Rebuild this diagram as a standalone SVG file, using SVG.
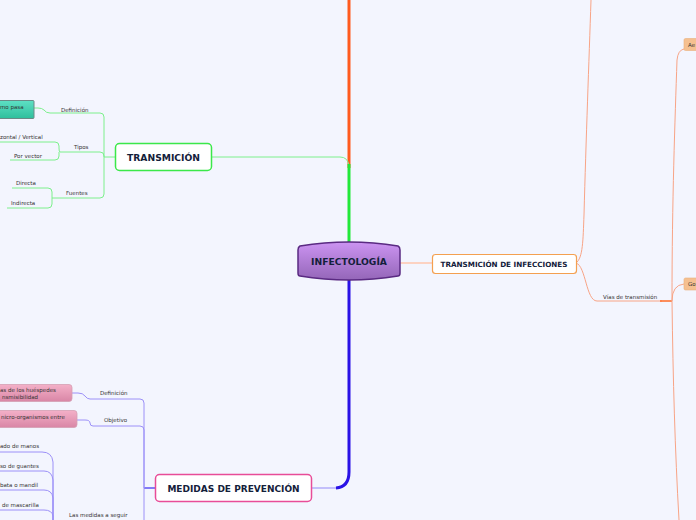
<svg xmlns="http://www.w3.org/2000/svg" width="696" height="520" viewBox="0 0 696 520">
<defs>
<linearGradient id="gCentral" x1="0" y1="0" x2="0" y2="1"><stop offset="0" stop-color="#cc94f2"/><stop offset="1" stop-color="#9466b8"/></linearGradient>
<linearGradient id="gTeal" x1="0" y1="0" x2="0" y2="1"><stop offset="0" stop-color="#5ee0c4"/><stop offset="1" stop-color="#2fbf9c"/></linearGradient>
<linearGradient id="gPink" x1="0" y1="0" x2="0" y2="1"><stop offset="0" stop-color="#f4b0c8"/><stop offset="1" stop-color="#d986a6"/></linearGradient>
<style>
.bold{font-family:"DejaVu Sans",Verdana,sans-serif;font-weight:bold;fill:#13203a}
.lbl{font-family:"DejaVu Sans",Verdana,sans-serif;font-size:5.5px;fill:#333}
.g{fill:none;stroke:#7cf08c;stroke-width:1}
.v{fill:none;stroke:#9c90f8;stroke-width:1}
.o{fill:none;stroke:#f8a486;stroke-width:1}
</style>
</defs>
<rect width="696" height="520" fill="#f3f5fe"/>
<g id="connectors">
<path d="M349,0 V168" stroke="#ff5a1f" stroke-width="3" fill="none"/>
<path d="M212,157 H340 Q348,157 349,166" class="g"/>
<path d="M349,164 V245" stroke="#22e83a" stroke-width="3" fill="none"/>
<path d="M349,279 V472 Q349,487 336,488" stroke="#2a12e6" stroke-width="3" fill="none"/>
<path d="M336,488 H312" stroke="#a49cf8" stroke-width="1.2" fill="none"/>
<path d="M400,263 H432" stroke="#ffc6ae" stroke-width="1.5" fill="none"/>
<path d="M115,157 H104" class="g"/>
<path d="M104,157 V117 Q104,113 100,113 H50 Q46,113 44,110 Q42,108 38,108 H34" class="g"/>
<path d="M104,157 V156 Q104,152 100,152 H60" class="g"/>
<path d="M104,157 V194 Q104,198 100,198 H52" class="g"/>
<path d="M60,152 Q59,152 59,148 V146 Q59,142 55,142 H0" class="g"/>
<path d="M59,152 V156 Q59,160 55,160 H10" class="g"/>
<path d="M52,198 V192 Q52,188 48,188 H12" class="g"/>
<path d="M52,198 V204 Q52,208 48,208 H7" class="g"/>
<path d="M155,488 H144" stroke="#3a2af0" stroke-width="1.2" fill="none"/>
<path d="M144,488 V403 Q144,399 140,399 H90 Q87,399 85,396 Q83,393 78,393 H72" class="v"/>
<path d="M144,488 V430 Q144,426 140,426 H93 Q90,426 90,423 Q90,420 85,420 H76" class="v"/>
<path d="M144,488 V520" class="v"/>
<path d="M0,452 H42 Q52,452 53,462 V520" class="v"/>
<path d="M0,471 H44 Q52,471 53,480 V520" class="v"/>
<path d="M0,490 H44 Q52,490 53,498 V520" class="v"/>
<path d="M0,510 H44 Q52,510 53,516 V520" class="v"/>
<path d="M576,263 C583,258 583,240 584,215 C586,140 589,60 591,0" class="o"/>
<path d="M576,263 C586,266 586,301 597,301 H662" class="o"/>
<path d="M660,301 H672" stroke="#ff6a26" stroke-width="1.5" fill="none"/>
<path d="M672,301 C672,200 675,120 677,60 Q678,50 684,49" class="o"/>
<path d="M672,301 Q672,285 684,284" class="o"/>
<path d="M672,301 C673,380 675,450 679,520" class="o"/>
</g>
<g id="central">
<path d="M300,246 Q349,238 398,246 Q400,247 400,250 V273 Q400,276 398,276 Q349,284 300,276 Q298,276 298,273 V250 Q298,247 300,246 Z" fill="url(#gCentral)" stroke="#5a2a82" stroke-width="1.5"/>
<text x="349" y="265" class="bold" font-size="9.2" text-anchor="middle">INFECTOLOGÍA</text>
</g>
<g id="transmicion">
<rect x="115.5" y="143.5" width="96" height="27" rx="4" fill="#fff" stroke="#3be84a" stroke-width="1.5"/>
<text x="163.5" y="160.5" class="bold" font-size="9.2" text-anchor="middle">TRANSMICIÓN</text>
</g>
<g id="t-def"><text x="61" y="111.5" class="lbl">Definición</text></g>
<g id="t-def-box">
<rect x="-5" y="100.5" width="39" height="18" rx="1" fill="url(#gTeal)" stroke="#6a8a86" stroke-width="1"/>
<text x="0" y="108.5" class="lbl" fill="#222">mo pasa</text>
</g>
<g id="t-tipos"><text x="74" y="149" class="lbl">Tipos</text></g>
<g id="t-hv"><text x="0" y="139" class="lbl">zontal / Vertical</text></g>
<g id="t-vector"><text x="14" y="158" class="lbl">Por vector</text></g>
<g id="t-fuentes"><text x="66" y="194.5" class="lbl">Fuentes</text></g>
<g id="t-directa"><text x="16" y="185" class="lbl">Directa</text></g>
<g id="t-indirecta"><text x="11" y="205" class="lbl">Indirecta</text></g>
<g id="medidas">
<rect x="155.5" y="474.5" width="156" height="27" rx="4" fill="#fff" stroke="#e84c98" stroke-width="1.5"/>
<text x="233.5" y="491.5" class="bold" font-size="9" text-anchor="middle">MEDIDAS DE PREVENCIÓN</text>
</g>
<g id="m-def"><text x="100" y="395" class="lbl">Definición</text></g>
<g id="m-def-box">
<rect x="-5" y="384.5" width="77" height="17" rx="3" fill="url(#gPink)" stroke="#d4a0b4" stroke-width="0.8"/>
<text x="0" y="391.5" class="lbl" fill="#222">as de los huéspedes</text>
<text x="2" y="398.5" class="lbl" fill="#222">nsmisibilidad</text>
</g>
<g id="m-obj"><text x="104" y="422" class="lbl">Objetivo</text></g>
<g id="m-obj-box">
<rect x="-5" y="410.5" width="82" height="17" rx="3" fill="url(#gPink)" stroke="#d4a0b4" stroke-width="0.8"/>
<text x="1" y="418.5" class="lbl" fill="#222">nicro-organismos entre</text>
</g>
<g id="m-seguir"><text x="69" y="517" class="lbl">Las medidas a seguir</text></g>
<g id="m-manos"><text x="0" y="448" class="lbl">ado de manos</text></g>
<g id="m-guantes"><text x="0" y="467.5" class="lbl">so de guantes</text></g>
<g id="m-bata"><text x="0" y="487" class="lbl">bata o mandil</text></g>
<g id="m-mascarilla"><text x="2" y="506.5" class="lbl">de mascarilla</text></g>
<g id="tdi">
<rect x="432.5" y="254.5" width="144" height="19" rx="3" fill="#fff" stroke="#f4a050" stroke-width="1.2"/>
<text x="504" y="266.5" class="bold" font-size="7.2" text-anchor="middle">TRANSMICIÓN DE INFECCIONES</text>
</g>
<g id="vias"><text x="603" y="298.5" class="lbl">Vías de transmisión</text></g>
<g id="ae">
<rect x="684" y="38.5" width="16" height="12" rx="1.5" fill="#f5c090" stroke="#eab07c" stroke-width="0.6"/>
<text x="688" y="46.5" class="lbl" fill="#222">Ae</text>
</g>
<g id="go">
<rect x="684" y="278" width="16" height="12" rx="1.5" fill="#f5c090" stroke="#eab07c" stroke-width="0.6"/>
<text x="688" y="286" class="lbl" fill="#222">Go</text>
</g>
</svg>
